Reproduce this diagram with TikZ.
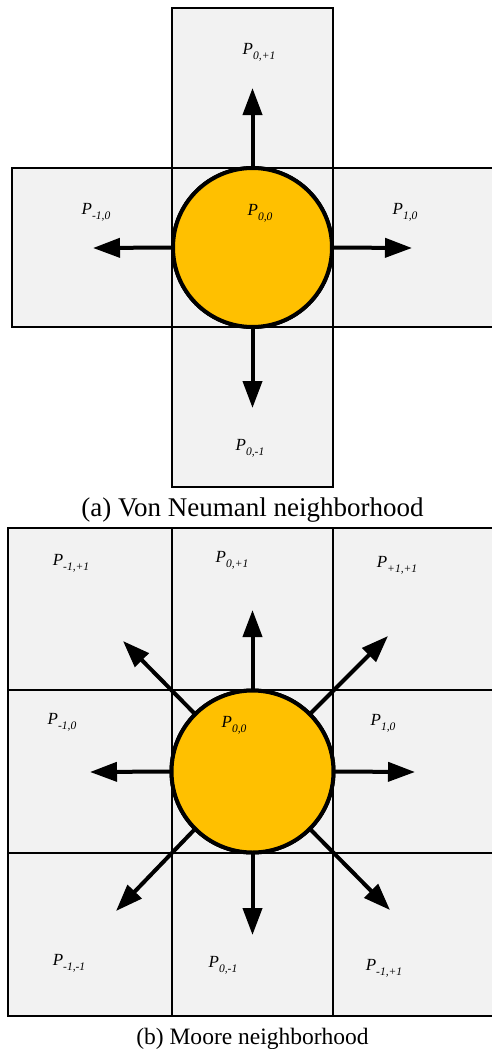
\documentclass[tikz,border=0pt]{standalone}
\usepackage{fontspec}
\setmainfont{Liberation Serif}
\usepackage{xcolor}
\usepackage{tikz}
\usetikzlibrary{arrows.meta, positioning}
\definecolor{cellgray}{HTML}{F2F2F2}
\definecolor{cellamber}{HTML}{FFC000}
\tikzstyle{cell} = [rectangle, draw, fill=cellgray, line width=2.6pt, inner sep=0pt, outer sep=0pt, anchor=north west]
\tikzstyle{focus} = [circle, draw, fill=cellamber, line width=4pt, inner sep=0pt, outer sep=0pt]
\tikzstyle{arrow} = [line width=4pt, -{Triangle[length=27pt,width=19pt]}]
\tikzstyle{lbl} = [font=\fontsize{17}{17}\selectfont\itshape, inner sep=0pt]
\tikzstyle{caption} = [inner sep=0pt]
\newcommand{\pcell}[1]{P\raisebox{-0.28em}{\fontsize{11.5}{11.5}\selectfont #1}}

\begin{document}
\begin{tikzpicture}[x=1pt, y=-1pt]
\useasboundingbox (0,0) rectangle (491,1049);

% (a) Von Neumann cells
\node[cell, minimum width=161pt, minimum height=160pt] (vnN) at (172,8) {};
\node[cell, minimum width=160pt, minimum height=159pt] (vnW) at (12,168) {};
\node[cell, minimum width=161pt, minimum height=159pt] (vnC) at (172,168) {};
\node[cell, minimum width=164pt, minimum height=159pt] (vnE) at (333,168) {};
\node[cell, minimum width=161pt, minimum height=160pt] (vnS) at (172,327) {};

% labels
\node[lbl] (vnLblN) at (259,52) {\pcell{0,+1}};
\node[lbl] (vnLblW) at (96,212) {\pcell{-1,0}};
\node[lbl] (vnLblE) at (405,212) {\pcell{1,0}};
\node[lbl] (vnLblS) at (250,448) {\pcell{0,-1}};

% arrows
\coordinate (vnTipN) at (252.5,88);
\coordinate (vnTipW) at (93,248);
\coordinate (vnTipE) at (412,248);
\coordinate (vnTipS) at (252.5,408);
\node[focus, minimum size=159pt] (vnP) at (252.5,247.5) {};
\draw[arrow] (vnP.north) -- (vnTipN);
\draw[arrow] (vnP.west) -- (vnTipW);
\draw[arrow] (vnP.east) -- (vnTipE);
\draw[arrow] (vnP.south) -- (vnTipS);
\node[focus, minimum size=159pt] at (vnP.center) {};
\node[lbl] (vnLblC) at (260,213) {\pcell{0,0}};

\node[caption, font=\fontsize{27}{27}\selectfont] (vnCap) at (252.5,510) {(a) Von Neumanl neighborhood};

% (b) Moore cells
\node[cell, minimum width=164pt, minimum height=162pt] (mrNW) at (8,528) {};
\node[cell, minimum width=161pt, minimum height=162pt] (mrN) at (172,528) {};
\node[cell, minimum width=164pt, minimum height=162pt] (mrNE) at (333,528) {};
\node[cell, minimum width=164pt, minimum height=163pt] (mrW) at (8,690) {};
\node[cell, minimum width=161pt, minimum height=163pt] (mrC) at (172,690) {};
\node[cell, minimum width=164pt, minimum height=163pt] (mrE) at (333,690) {};
\node[cell, minimum width=164pt, minimum height=163pt] (mrSW) at (8,853) {};
\node[cell, minimum width=161pt, minimum height=163pt] (mrS) at (172,853) {};
\node[cell, minimum width=164pt, minimum height=163pt] (mrSE) at (333,853) {};

% labels
\node[lbl] (mrLblNW) at (71,563) {\pcell{-1,+1}};
\node[lbl] (mrLblN) at (232,560) {\pcell{0,+1}};
\node[lbl] (mrLblNE) at (397,565) {\pcell{+1,+1}};
\node[lbl] (mrLblW) at (62,722) {\pcell{-1,0}};
\node[lbl] (mrLblE) at (383,723) {\pcell{1,0}};
\node[lbl] (mrLblSW) at (69,963) {\pcell{-1,-1}};
\node[lbl] (mrLblS) at (223,965) {\pcell{0,-1}};
\node[lbl] (mrLblSE) at (384,968) {\pcell{-1,+1}};

% arrows
\coordinate (mrTipN) at (252.5,610);
\coordinate (mrTipW) at (90,772);
\coordinate (mrTipE) at (415,772);
\coordinate (mrTipS) at (252.5,935);
\coordinate (mrTipNW) at (123,641);
\coordinate (mrTipNE) at (388,636);
\coordinate (mrTipSW) at (116,911);
\coordinate (mrTipSE) at (390,910);
\node[focus, minimum size=162pt] (mrP) at (252.5,771.5) {};
\draw[arrow] (mrP.north) -- (mrTipN);
\draw[arrow] (mrP.west) -- (mrTipW);
\draw[arrow] (mrP.east) -- (mrTipE);
\draw[arrow] (mrP.south) -- (mrTipS);
\draw[arrow] (mrP.135) -- (mrTipNW);
\draw[arrow] (mrP.45) -- (mrTipNE);
\draw[arrow] (mrP.225) -- (mrTipSW);
\draw[arrow] (mrP.-45) -- (mrTipSE);
\node[focus, minimum size=162pt] at (mrP.center) {};
\node[lbl] (mrLblC) at (234,725) {\pcell{0,0}};

\node[caption, font=\fontsize{23.5}{23.5}\selectfont] (mrCap) at (252.5,1039) {(b) Moore neighborhood};

\end{tikzpicture}
\end{document}
